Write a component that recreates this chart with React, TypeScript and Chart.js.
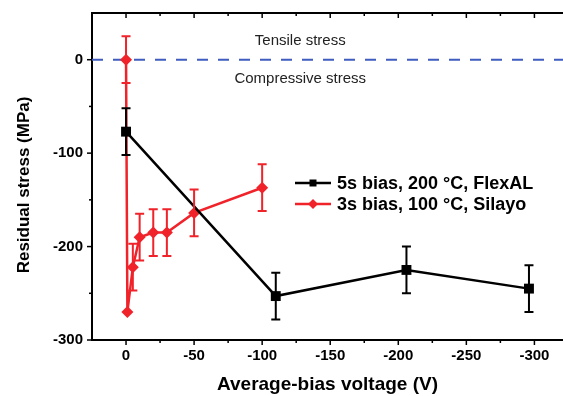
import React, { useEffect, useRef } from "react";
import { Chart, registerables } from "chart.js";

Chart.register(...registerables);

// ---------- data ----------
const blackX = [0, -110, -206, -296];
const blackY = [-77, -253, -225, -245];
const blackErr = [25, 25, 25, 25];

const redX = [0, -1, -5, -10, -20, -30, -50, -100];
const redY = [0, -270, -222, -190, -185, -185, -164, -137];
const redErr = [25, 0, 25, 25, 25, 25, 25, 25];

const seriesLabels = ["5s bias, 200 °C, FlexAL", "3s bias, 100 °C, Silayo"];
const xMajorTicks = [0, -50, -100, -150, -200, -250, -300];
const xMinorTicks = [25, -25, -75, -125, -175, -225, -275];
const yMajorTicks = [0, -100, -200, -300];
const yMinorTicks = [50, -50, -150, -250];
const regionLabels = ["Tensile stress", "Compressive stress"];
const regionLabelX = -128;
const regionLabelY = [20, -20];
const xTitle = "Average-bias voltage (V)";
const yTitle = "Residual stress (MPa)";

const BLACK = "#000000";
const RED = "#f0222a";
const BLUE = "#3f5cc0";
const FONT = "'Liberation Sans', Arial, sans-serif";

const errs = [blackErr, redErr];

const zeroPad = (s: any) => {
  s.paddingTop = 0;
  s.paddingBottom = 0;
  s.paddingLeft = 0;
  s.paddingRight = 0;
};

const decorPlugin = {
  id: "decor",
  beforeDatasetsDraw(chart: any) {
    const { ctx, chartArea: a, scales } = chart;
    const y0 = scales.y.getPixelForValue(0);
    ctx.save();
    ctx.strokeStyle = BLUE;
    ctx.lineWidth = 2;
    ctx.setLineDash([11, 10]);
    ctx.beginPath();
    ctx.moveTo(a.left, y0);
    ctx.lineTo(a.right, y0);
    ctx.stroke();
    ctx.setLineDash([]);
    ctx.fillStyle = "#222";
    ctx.font = `15px ${FONT}`;
    ctx.textAlign = "center";
    ctx.textBaseline = "middle";
    regionLabels.forEach((t, i) => {
      ctx.fillText(t, scales.x.getPixelForValue(regionLabelX), scales.y.getPixelForValue(regionLabelY[i]));
    });
    ctx.restore();
  },
  afterDatasetsDraw(chart: any) {
    const { ctx, scales } = chart;
    ctx.save();
    chart.data.datasets.forEach((ds: any, di: number) => {
      ctx.strokeStyle = ds.borderColor;
      ctx.lineWidth = 2;
      ds.data.forEach((p: any, i: number) => {
        const e = errs[di][i];
        if (!e) return;
        const px = scales.x.getPixelForValue(p.x);
        const yt = scales.y.getPixelForValue(p.y + e);
        const yb = scales.y.getPixelForValue(p.y - e);
        ctx.beginPath();
        ctx.moveTo(px, yt);
        ctx.lineTo(px, yb);
        ctx.moveTo(px - 4.5, yt);
        ctx.lineTo(px + 4.5, yt);
        ctx.moveTo(px - 4.5, yb);
        ctx.lineTo(px + 4.5, yb);
        ctx.stroke();
      });
    });
    ctx.restore();
  },
  afterDraw(chart: any) {
    const { ctx, chartArea: a, scales } = chart;
    ctx.save();
    ctx.strokeStyle = "#000";
    ctx.lineWidth = 2;
    ctx.beginPath();
    ctx.moveTo(a.left - 1, a.top);
    ctx.lineTo(a.right, a.top);
    ctx.stroke();
    ctx.lineWidth = 1.5;
    const tick = (x1: number, y1: number, x2: number, y2: number) => {
      ctx.beginPath();
      ctx.moveTo(x1, y1);
      ctx.lineTo(x2, y2);
      ctx.stroke();
    };
    xMajorTicks.forEach((v) => {
      const px = scales.x.getPixelForValue(v);
      tick(px, a.bottom, px, a.bottom + 5);
      tick(px, a.top, px, a.top + 5);
    });
    xMinorTicks.forEach((v) => {
      const px = scales.x.getPixelForValue(v);
      if (px <= a.left + 1 || px >= a.right) return;
      tick(px, a.bottom, px, a.bottom + 3);
      tick(px, a.top, px, a.top + 3);
    });
    yMajorTicks.forEach((v) => {
      const py = scales.y.getPixelForValue(v);
      tick(a.left - 5, py, a.left, py);
    });
    yMinorTicks.forEach((v) => {
      const py = scales.y.getPixelForValue(v);
      if (py <= a.top + 1) return;
      tick(a.left - 3, py, a.left, py);
    });
    ctx.save();
    ctx.translate(24, 185);
    ctx.rotate(-Math.PI / 2);
    ctx.fillStyle = "#000";
    ctx.font = `bold 17px ${FONT}`;
    ctx.textAlign = "center";
    ctx.textBaseline = "middle";
    ctx.fillText(yTitle, 0, 0);
    ctx.restore();
    const rows = [183, 204];
    chart.data.datasets.forEach((ds: any, i: number) => {
      const ly = rows[i];
      ctx.strokeStyle = ds.borderColor;
      ctx.lineWidth = 2.5;
      tick(295, ly, 331, ly);
      ctx.fillStyle = ds.borderColor;
      ctx.beginPath();
      if (ds.pointStyle === "rect") {
        ctx.rect(309.5, ly - 3.5, 7, 7);
      } else {
        ctx.moveTo(313, ly - 5);
        ctx.lineTo(318, ly);
        ctx.lineTo(313, ly + 5);
        ctx.lineTo(308, ly);
        ctx.closePath();
      }
      ctx.fill();
      ctx.fillStyle = "#000";
      ctx.font = `bold 18px ${FONT}`;
      ctx.textAlign = "left";
      ctx.textBaseline = "middle";
      ctx.fillText(seriesLabels[i], 337, ly + 1);
    });
    ctx.restore();
  },
};

export default function App() {
  const ref = useRef<HTMLCanvasElement | null>(null);
  useEffect(() => {
    if (!ref.current) return;
    const chart = new Chart(ref.current, {
      type: "line",
      data: {
        datasets: [
          {
            label: seriesLabels[0],
            data: blackX.map((x, i) => ({ x, y: blackY[i] })),
            borderColor: BLACK,
            backgroundColor: BLACK,
            borderWidth: 2.5,
            pointStyle: "rect",
            pointRadius: 7,
            pointBorderWidth: 0,
            pointBackgroundColor: BLACK,
          },
          {
            label: seriesLabels[1],
            data: redX.map((x, i) => ({ x, y: redY[i] })),
            borderColor: RED,
            backgroundColor: RED,
            borderWidth: 2.5,
            pointStyle: "rectRot",
            pointRadius: 6,
            pointBorderWidth: 0,
            pointBackgroundColor: RED,
          },
        ],
      },
      options: {
        responsive: false,
        maintainAspectRatio: false,
        animation: false,
        devicePixelRatio: 1,
        layout: { autoPadding: false, padding: { top: 13, right: 0, left: 0, bottom: 0 } },
        plugins: { legend: { display: false }, tooltip: { enabled: false } },
        scales: {
          x: {
            type: "linear",
            reverse: true,
            min: -321,
            max: 25,
            grid: { display: false, drawTicks: false },
            border: { display: true, color: "#000", width: 2 },
            afterBuildTicks: (s: any) => {
              s.ticks = xMajorTicks.map((v) => ({ value: v }));
            },
            afterFit: (s: any) => {
              s.height = 56;
              zeroPad(s);
            },
            ticks: {
              padding: 7,
              color: "#000",
              font: { family: FONT, size: 15, weight: "bold" },
              callback: (v: any) => String(v),
            },
            title: {
              display: true,
              text: xTitle,
              color: "#000",
              font: { family: FONT, size: 19, weight: "bold" },
              padding: { top: 0, bottom: 0 },
            },
          },
          y: {
            type: "linear",
            min: -300,
            max: 50,
            grid: { display: false, drawTicks: false },
            border: { display: true, color: "#000", width: 2 },
            afterBuildTicks: (s: any) => {
              s.ticks = yMajorTicks.map((v) => ({ value: v }));
            },
            afterFit: (s: any) => {
              s.width = 92;
              zeroPad(s);
            },
            ticks: {
              padding: 9,
              color: "#000",
              font: { family: FONT, size: 15, weight: "bold" },
              callback: (v: any) => String(v),
            },
          },
        },
      },
      plugins: [decorPlugin],
    } as any);
    return () => chart.destroy();
  }, []);
  return (
    <div style={{ position: "absolute", left: 0, top: 0, width: 563, height: 396, background: "#fff" }}>
      <canvas ref={ref} width={563} height={396} />
    </div>
  );
}
